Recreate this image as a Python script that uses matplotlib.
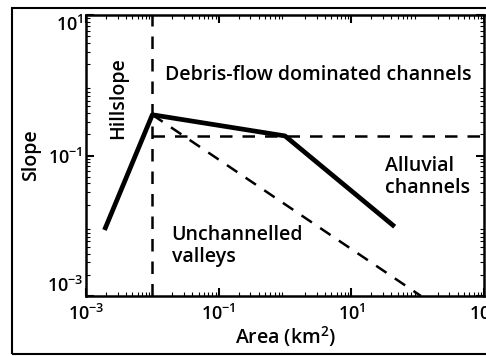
import matplotlib
matplotlib.use("Agg")
import matplotlib.pyplot as plt
import numpy as np

# slope-area regimes
area_solid = [1.9e-3, 0.01, 1.0, 45.0]
slope_solid = [0.0087, 0.38, 0.19, 0.0097]

area_vert = [0.01, 0.01]
slope_vert = [1e-3, 1e1]

area_horiz = [0.01, 1e3]
slope_horiz = [0.19, 0.19]

area_diag = [0.01, 112.0]
slope_diag = [0.38, 1e-3]

xticks = [1e-3, 1e-1, 1e1, 1e3]
yticks = [1e-3, 1e-1, 1e1]

plt.rcParams['font.family'] = ['Open Sans', 'DejaVu Sans']
plt.rcParams['mathtext.fontset'] = 'custom'
plt.rcParams['mathtext.rm'] = 'Open Sans:semibold'
plt.rcParams['mathtext.default'] = 'rm'
W = 'semibold'

fig = plt.figure(figsize=(4.86, 3.56), dpi=100)
ax = fig.add_axes([86/486, 60/356, 398/486, 281/356])

ax.plot(area_vert, slope_vert, 'k--', lw=1.8, dashes=(5, 4))
ax.plot(area_horiz, slope_horiz, 'k--', lw=1.8, dashes=(5, 4))
ax.plot(area_diag, slope_diag, 'k--', lw=1.8, dashes=(5, 4))
ax.plot(area_solid, slope_solid, 'k-', lw=3.4, solid_capstyle='butt')

ax.set_xscale('log')
ax.set_yscale('log')
ax.set_xlim(1e-3, 1e3)
ax.set_ylim(1e-3, 1e1)
ax.set_xticks(xticks)
ax.set_yticks(yticks)
ax.set_xticklabels(['10$^{-3}$', '10$^{-1}$', '10$^{1}$', '10$^{3}$'], fontweight=W)
ax.set_yticklabels(['10$^{-3}$', '10$^{-1}$', '10$^{1}$'], fontweight=W)
ax.tick_params(which='both', direction='in', top=True, right=True, labelsize=13)
ax.tick_params(axis='x', pad=6)
ax.tick_params(axis='y', pad=2)
ax.tick_params(which='major', length=6, width=1.5)
ax.tick_params(which='minor', length=3, width=0.8)
ylabs = ax.get_yticklabels()
ylabs[-1].set_va('top')
ylabs[0].set_va('bottom')
for s in ax.spines.values():
    s.set_linewidth(1.8)

ax.set_xlabel('Area (km$^2$)', fontsize=14, fontweight=W, labelpad=0)
ax.set_ylabel('Slope', fontsize=14, fontweight=W, labelpad=4)

ax.text(0.003, 0.66, 'Hillslope', rotation=90, fontsize=14, fontweight=W,
        ha='center', va='center')
ax.text(3.2, 1.4, 'Debris-flow dominated channels', fontsize=14, fontweight=W,
        ha='center', va='center')
ax.text(32, 0.049, 'Alluvial\nchannels', fontsize=14, fontweight=W,
        ha='left', va='center', linespacing=1.15)
ax.text(0.0196, 0.0051, 'Unchannelled\nvalleys', fontsize=14, fontweight=W,
        ha='left', va='center', linespacing=1.15)

# outer frame (right side runs off the image)
fig.patches.append(matplotlib.patches.Rectangle((12/486, 2/356), 1.1, 346/356,
                                                transform=fig.transFigure, fill=False,
                                                edgecolor='black', lw=1.5))

fig.savefig('out.png', dpi=100)
